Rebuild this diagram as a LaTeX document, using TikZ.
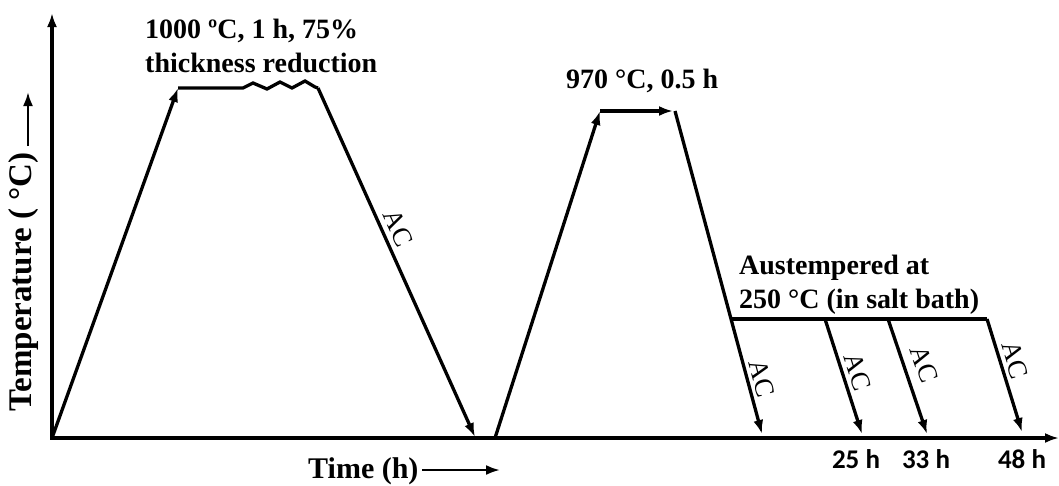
\documentclass[tikz,border=0pt]{standalone}
\usepackage{fontspec}
\setmainfont{Liberation Serif}
\newfontfamily\lblfont{Carlito}
\usetikzlibrary{arrows.meta}
\begin{document}
\begin{tikzpicture}[x=1pt,y=-1pt,
  ln/.style={line width=3.3pt},
  arr/.style={ln,-{Latex[length=14pt,width=10pt]}},
  ttl/.style={font=\fontsize{28}{33.5}\selectfont\bfseries,align=left,inner sep=0pt},
  aclbl/.style={font=\fontsize{27}{30}\selectfont,sloped,above,inner sep=1pt},
  hlbl/.style={font=\lblfont\fontsize{27}{30}\selectfont\bfseries,inner sep=0pt}]
\useasboundingbox (0,0) rectangle (1059,485);
% axes
\coordinate (O) at (52,438);
\coordinate (Ytop) at (52,13);
\coordinate (Xend) at (1059,438);
\draw[arr] (O) -- (Ytop);
\draw[arr] (50,438) -- (Xend);
% axis labels
\node[ttl,rotate=90,font=\fontsize{33}{35}\selectfont\bfseries] (ylab) at (24,282) {Temperature ( °C)};
\coordinate (ya1) at (28,146);
\coordinate (ya2) at (28,92);
\draw[arr,line width=2.4pt] (ya1) -- (ya2);
\node[ttl,font=\fontsize{30}{33}\selectfont\bfseries,anchor=base west] (xlab) at (308,478) {Time (h)};
\coordinate (xa1) at (422,470);
\coordinate (xa2) at (500,470);
\draw[arr,line width=2.4pt] (xa1) -- (xa2);
% first cycle
\coordinate (a0) at (52,438);
\coordinate (a1) at (178,88);
\coordinate (a2) at (243,88);
\coordinate (a3) at (318,88);
\coordinate (a4) at (475,437);
\draw[arr] (a0) -- (a1);
\draw[ln,line join=miter] (a1) -- (a2) -- (253,83) -- (267,89) -- (280,82) -- (292,88) -- (305,81) -- (315,87) -- (a3);
\draw[arr] (a3) -- node[aclbl,pos=0.42,above=4pt] (ac0) {AC} (a4);
\node[ttl,anchor=base west] (t1) at (145,72) {1000 ºC, 1 h, 75\%\\thickness reduction};
% second cycle
\coordinate (b0) at (495,438);
\coordinate (b1) at (600,111);
\coordinate (b2) at (673,111);
\coordinate (b3) at (675,111);
\coordinate (b4) at (762,434);
\coordinate (h0) at (731,319);
\draw[arr] (b0) -- (b1);
\draw[arr] (b1) -- (b2);
\draw[arr] (b3) -- node[aclbl,pos=0.84,above=3pt] (ac1) {AC} (b4);
\node[ttl,anchor=base west] (t2) at (566,88) {970 °C, 0.5 h};
% hold line and branches
\coordinate (h1) at (825,319);
\coordinate (h2) at (888,319);
\coordinate (h3) at (987,319);
\draw[ln,line join=miter] (h0) -- (h3);
\coordinate (e1) at (862,434);
\coordinate (e2) at (927,434);
\coordinate (e3) at (1022,432);
\draw[arr] (h1) -- node[aclbl,pos=0.5,above=3pt] (ac2) {AC} (e1);
\draw[arr] (h2) -- node[aclbl,pos=0.45,above=8pt] (ac3) {AC} (e2);
\draw[arr] (h3) -- node[aclbl,pos=0.4,above=3pt] (ac4) {AC} (e3);
\node[ttl,anchor=base west] (t3) at (739,308) {Austempered at\\250 °C (in salt bath)};
% time labels
\node[hlbl] (l25) at (856,459) {25 h};
\node[hlbl] (l33) at (926,459) {33 h};
\node[hlbl] (l48) at (1022,459) {48 h};
\end{tikzpicture}
\end{document}
